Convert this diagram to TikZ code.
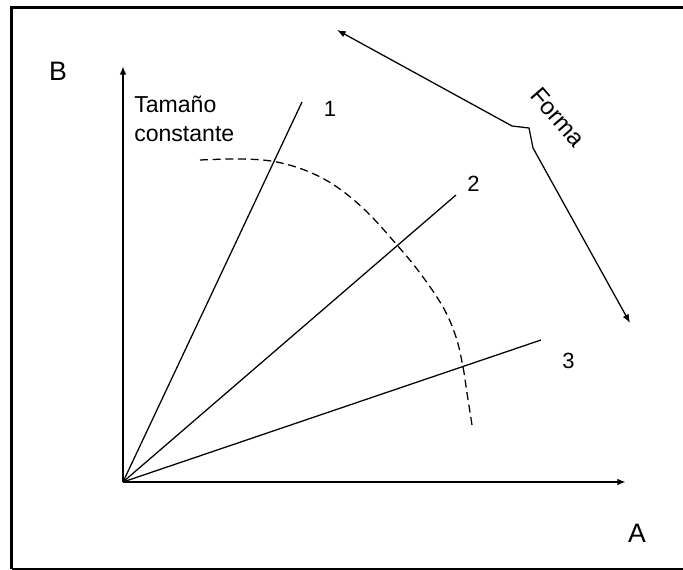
\documentclass[tikz,border=0pt]{standalone}
\usepackage{fontspec}
\setmainfont{Liberation Sans}
\usetikzlibrary{arrows.meta}
\begin{document}
\begin{tikzpicture}[x=0.75pt,y=-0.75pt,
  tip/.style={-{Latex[length=6.5pt,width=5pt]}},
  axis/.style={line width=1.5pt,tip},
  ray/.style={line width=0.95pt},
  curve/.style={line width=0.95pt,dash pattern=on 6pt off 3.5pt},
  big/.style={inner sep=0pt,font=\fontsize{20}{24}\selectfont},
  num/.style={inner sep=0pt,font=\fontsize{16.5}{20}\selectfont},
  txt/.style={inner sep=0pt,font=\fontsize{17.3}{20}\selectfont},
  ftxt/.style={inner sep=0pt,font=\fontsize{18}{20}\selectfont}]
\useasboundingbox (0,0) rectangle (683,570);
% frame
\draw[line width=2.2pt] (683,7.5) -- (11.5,7.5) -- (11.5,569);
\draw[line width=1.2pt] (11.5,569) -- (683,569);
% axes
\coordinate (O) at (123,482);
\coordinate (Ytop) at (123,66);
\coordinate (Xend) at (626,482);
\draw[axis] (O) -- (Ytop);
\draw[axis] (O) -- (Xend);
\node[big] (B) at (58,71) {B};
\node[big] (A) at (637,533) {A};
% rays
\coordinate (R1) at (302,102);
\coordinate (R2) at (456,195);
\coordinate (R3) at (541,340);
\draw[ray] (O) -- (R1);
\draw[ray] (O) -- (R2);
\draw[ray] (O) -- (R3);
\node[num] (L1) at (330,108.5) {1};
\node[num] (L2) at (473.5,184) {2};
\node[num] (L3) at (568.5,361) {3};
% label
\node[txt,anchor=base west] (T1) at (134,113) {Tamaño};
\node[txt,anchor=base west] (T2) at (134,141.5) {constante};
% dashed constant-size curve
\draw[curve] plot[smooth,tension=0.6] coordinates {(200,160) (240,159) (274,161.5) (307,171) (337,187) (367,212) (397,245) (420,273) (443,307) (456,337) (463,367) (467,393) (472,425)};
% Forma arrow
\coordinate (F1) at (337,30);
\coordinate (F2) at (512,126);
\coordinate (F3) at (529,128);
\coordinate (F4) at (533,148);
\coordinate (F5) at (630,323);
\draw[ray,{Latex[length=6.5pt,width=5pt]}-{Latex[length=6.5pt,width=5pt]}] (F1) -- (F2) -- (F3) -- (F4) -- (F5);
\node[ftxt,rotate=-49] (Forma) at (558,117) {Forma};
\end{tikzpicture}
\end{document}
